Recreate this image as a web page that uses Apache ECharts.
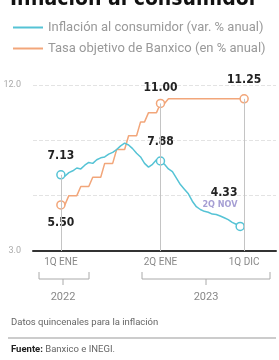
<!DOCTYPE html>
<html>
<head>
<meta charset="utf-8">
<script src="https://cdn.jsdelivr.net/npm/echarts@6/dist/echarts.min.js"></script>
<style>
  html, body { margin: 0; padding: 0; background: #fff; }
  #chart { width: 279px; height: 360px; }
</style>
</head>
<body>
<div id="chart"></div>
<script>
// fortnights from 1Q ENE 2022 (0) to 1Q DIC 2023 (46)
var tickPos = [0, 25, 46];
var tickLabels = ['1Q ENE', '2Q ENE', '1Q DIC'];

// inflation, annual % (ends 2Q NOV 2023)
var inflation = [7.13, 7.05, 7.25, 7.35, 7.50, 7.45, 7.65, 7.80, 7.75, 7.95,
  8.05, 8.10, 8.25, 8.35, 8.50, 8.70, 8.85, 8.75, 8.55, 8.30,
  8.10, 7.75, 7.55, 7.70, 7.95, 7.88, 7.70, 7.45, 7.30, 6.95,
  6.60, 6.35, 6.10, 5.70, 5.40, 5.25, 5.15, 5.10, 5.00, 4.98,
  4.90, 4.80, 4.70, 4.55, 4.45, 4.33];

// Banxico target rate, %
var rate = [5.50, 5.50, 6.00, 6.00, 6.00, 6.50, 6.50, 6.50, 7.00, 7.00,
  7.00, 7.75, 7.75, 7.75, 8.50, 8.50, 8.50, 9.25, 9.25, 9.25,
  10.00, 10.00, 10.50, 10.50, 10.50, 11.00, 11.00, 11.25, 11.25, 11.25,
  11.25, 11.25, 11.25, 11.25, 11.25, 11.25, 11.25, 11.25, 11.25, 11.25,
  11.25, 11.25, 11.25, 11.25, 11.25, 11.25, 11.25];

var BLUE = '#55c3d5';
var ORANGE = '#f2a67a';
var FONT = '"DejaVu Sans Condensed", Roboto, sans-serif';
var TXT = 'Roboto, sans-serif';

var valLabel = { show: true, color: '#222', fontWeight: 'bold', fontSize: 12, fontFamily: FONT };

function build(values, color, marks) {
  return values.map(function (v, i) {
    if (marks[i] === undefined) return [i, v];
    return {
      value: [i, v],
      symbol: 'circle',
      symbolSize: 8,
      itemStyle: { color: '#fff', borderColor: color, borderWidth: 1.5 },
      label: marks[i]
    };
  });
}

var blueMarks = {};
blueMarks[0] = Object.assign({}, valLabel, { position: 'top', distance: 8, formatter: v => v.value[1].toFixed(2) });
blueMarks[25] = Object.assign({}, valLabel, { position: 'top', distance: 8, formatter: v => v.value[1].toFixed(2) });
blueMarks[45] = Object.assign({}, valLabel, {
  position: 'left', offset: [7, -28], align: 'right',
  formatter: v => '{v|' + v.value[1].toFixed(2) + '}\n{d|2Q NOV}',
  rich: {
    v: { color: '#222', fontWeight: 'bold', fontSize: 12, fontFamily: FONT, align: 'right', lineHeight: 13 },
    d: { color: '#a69fd4', fontSize: 9, fontFamily: FONT, align: 'right', lineHeight: 11 }
  }
});

var orangeMarks = {};
orangeMarks[0] = Object.assign({}, valLabel, { position: 'bottom', distance: 7, formatter: v => v.value[1].toFixed(2) });
orangeMarks[25] = Object.assign({}, valLabel, { position: 'top', distance: 5, formatter: v => v.value[1].toFixed(2) });
orangeMarks[46] = Object.assign({}, valLabel, { position: 'top', distance: 8, formatter: v => v.value[1].toFixed(2) });

var chart = echarts.init(document.getElementById('chart'));

var option = {
  animation: false,
  title: {
    text: 'Inflación al consumidor',
    left: 5, top: -16,
    textStyle: { color: '#111', fontSize: 21, fontWeight: 'bold', fontFamily: FONT }
  },
  legend: {
    orient: 'vertical',
    left: 8, top: 16,
    itemWidth: 30, itemHeight: 2, itemGap: 8,
    icon: 'rect',
    textStyle: { color: '#999', fontSize: 13, fontFamily: TXT },
    data: ['Inflación al consumidor (var. % anual)', 'Tasa objetivo de Banxico (en % anual)']
  },
  grid: { left: 33, right: 0, top: 85, bottom: 109 },
  xAxis: {
    type: 'value', min: -7, max: 54, interval: 1,
    axisLine: { show: true, onZero: false, lineStyle: { color: '#333', width: 2 } },
    axisTick: { show: false },
    splitLine: { show: false },
    axisLabel: {
      color: '#888', fontSize: 10, fontFamily: TXT, margin: 6,
      showMinLabel: true, showMaxLabel: true,
      formatter: function (v) {
        var k = tickPos.indexOf(v);
        return k < 0 ? '' : tickLabels[k];
      }
    }
  },
  yAxis: {
    type: 'value', min: 3, max: 12, interval: 3,
    axisLine: { show: false },
    axisTick: { show: false },
    splitLine: { lineStyle: { color: '#e3e3e3', type: 'dashed', width: 1 } },
    axisLabel: {
      color: '#aaa', fontSize: 9, fontFamily: TXT, margin: 12,
      formatter: function (v) { return (v === 3 || v === 12) ? v.toFixed(1) : ''; }
    }
  },
  series: [
    {
      name: 'Tasa objetivo de Banxico (en % anual)',
      type: 'line',
      data: build(rate, ORANGE, orangeMarks),
      symbol: 'none', showSymbol: true,
      lineStyle: { color: ORANGE, width: 1.5 },
      itemStyle: { color: ORANGE },
      z: 2,
      markLine: {
        silent: true, symbol: 'none',
        label: { show: false },
        lineStyle: { color: '#c4c4c4', type: 'solid', width: 1 },
        data: [
          [{ coord: [0, inflation[0]] }, { coord: [0, 3] }],
          [{ coord: [25, rate[25]] }, { coord: [25, 3] }],
          [{ coord: [46, rate[46]] }, { coord: [46, 3] }]
        ]
      }
    },
    {
      name: 'Inflación al consumidor (var. % anual)',
      type: 'line',
      data: build(inflation, BLUE, blueMarks),
      symbol: 'none', showSymbol: true,
      lineStyle: { color: BLUE, width: 1.5 },
      itemStyle: { color: BLUE },
      z: 3
    }
  ],
  graphic: [
    { type: 'polyline', shape: { points: [[39, 272], [39, 279], [89, 279], [89, 272]] }, style: { stroke: '#aaa', lineWidth: 1, fill: null } },
    { type: 'line', shape: { x1: 63, y1: 279, x2: 63, y2: 285 }, style: { stroke: '#aaa', lineWidth: 1 } },
    { type: 'text', x: 63, y: 292, style: { text: '2022', fill: '#888', fontSize: 11, fontFamily: TXT, align: 'center' } },
    { type: 'polyline', shape: { points: [[142, 272], [142, 279], [270, 279], [270, 272]] }, style: { stroke: '#aaa', lineWidth: 1, fill: null } },
    { type: 'line', shape: { x1: 206, y1: 279, x2: 206, y2: 285 }, style: { stroke: '#aaa', lineWidth: 1 } },
    { type: 'text', x: 206, y: 292, style: { text: '2023', fill: '#888', fontSize: 11, fontFamily: TXT, align: 'center' } },
    { type: 'text', x: 11, y: 318, style: { text: 'Datos quincenales para la inflación', fill: '#666', fontSize: 9.5, fontFamily: TXT } },
    { type: 'line', shape: { x1: 8, y1: 338, x2: 276, y2: 338 }, style: { stroke: '#999', lineWidth: 1 } },
    { type: 'text', x: 11, y: 345, style: {
      text: '{b|Fuente:} Banxico e INEGI.',
      fill: '#666', fontSize: 9.5, fontFamily: TXT,
      rich: { b: { fontWeight: 'bold', fill: '#222', fontSize: 9.5, fontFamily: TXT } }
    } }
  ]
};

chart.setOption(option);
</script>
</body>
</html>
